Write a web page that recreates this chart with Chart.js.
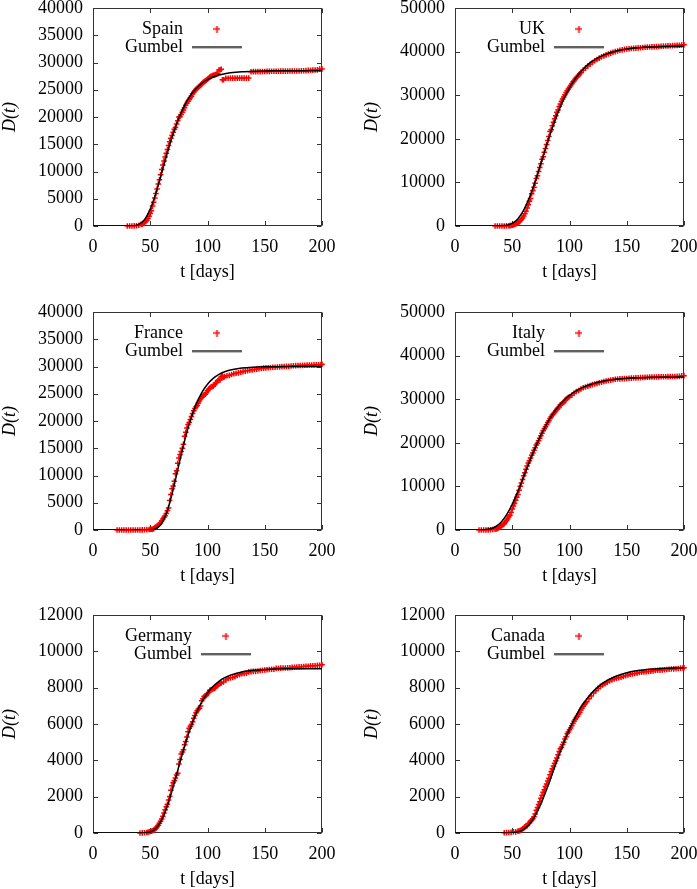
<!DOCTYPE html>
<html><head><meta charset="utf-8">
<script src="https://cdn.jsdelivr.net/npm/chart.js@4.4.1/dist/chart.umd.min.js"></script>
<style>
html,body{margin:0;padding:0;background:#fff;overflow:hidden;width:697px;height:889px;position:relative}
canvas{position:absolute}
</style></head><body>
<canvas id="c0" width="346" height="300" style="left:0px;top:-14px"></canvas>
<canvas id="c1" width="346" height="300" style="left:362px;top:-14px"></canvas>
<canvas id="c2" width="346" height="300" style="left:0px;top:290px"></canvas>
<canvas id="c3" width="346" height="300" style="left:362px;top:290px"></canvas>
<canvas id="c4" width="346" height="300" style="left:0px;top:593px"></canvas>
<canvas id="c5" width="346" height="300" style="left:362px;top:593px"></canvas>
<script>
// ---------------- data ----------------
const panelNames = ['Spain','UK','France','Italy','Germany','Canada'];
const panelYMax  = [40000, 50000, 40000, 50000, 12000, 12000];
const panelYStep = [5000, 10000, 5000, 10000, 2000, 2000];
const xAxisMax = 200;
const xAxisStep = 50;

const spainDays = [30,32,34,36,38,40,42,43,44,45,46,47,48,49,50,51,52,53,54,55,56,57,58,59,60,61,62,63,64,65,66,67,68,69,70,71,72,73,74,75,76,77,78,79,80,81,82,83,84,85,86,87,88,89,90,91,92,93,94,95,96,97,98,99,100,101,102,103,104,105,106,107,108,109,110,111,112,113,114,116,118,120,122,124,126,128,130,132,134,136,138,140,142,144,146,148,150,152,154,156,158,160,162,164,166,168,170,172,174,176,178,180,182,184,186,188,190,192,194,196,198,200];
const spainDeaths = [1,3,10,28,54,133,289,342,533,623,830,1043,1375,1772,2311,2808,3647,4365,5138,5982,6803,7716,8464,9387,10348,11198,11947,12641,13341,14045,14792,15447,16081,16606,17209,17756,18056,18708,19315,20002,20043,20453,20852,21282,21717,22157,22524,22902,23190,23521,23822,24275,24543,24824,25100,25264,25428,25613,25857,26070,26299,26478,26621,26744,26920,27104,27321,27459,27563,27650,27709,27778,27888,27940,28628,28678,28752,26834,26834,27117,27121,27127,27127,27127,27134,27136,27136,27136,27136,27136,28315,28322,28324,28327,28330,28341,28355,28364,28368,28385,28388,28396,28403,28409,28416,28422,28426,28429,28432,28436,28441,28445,28472,28498,28503,28549,28576,28605,28617,28646,28797,28813];
const spainFitDays = [0,20,25,30,35,40,45,50,55,60,65,70,75,80,85,90,95,100,105,110,115,120,130,140,150,160,170,180,190,200];
const spainFitDeaths = [0,0,0,2,40,292,1176,3098,6079,9727,13489,16929,19830,22142,23909,25220,26174,26858,27346,27693,27936,28107,28308,28407,28455,28478,28490,28495,28498,28499];

const ukDays = [35,37,39,41,43,45,47,48,49,50,51,52,53,54,55,56,57,58,59,60,61,62,63,64,65,66,67,68,69,70,71,72,73,74,75,76,77,78,79,80,81,82,83,84,85,86,87,88,89,90,91,92,93,94,95,96,97,98,99,100,101,102,103,104,105,106,107,108,109,110,112,114,116,118,120,122,124,126,128,130,132,134,136,138,140,142,144,146,148,150,152,154,156,158,160,162,164,166,168,170,172,174,176,178,180,182,184,186,188,190,192,194,196,198,200];
const ukDeaths = [2,3,5,8,15,30,50,80,120,180,250,340,450,580,750,950,1200,1500,1850,2300,2800,3400,4100,4900,5700,6300,7400,8100,8900,9800,10900,11500,12500,13400,14300,15300,15900,16900,17800,18700,19600,20500,21700,22100,23000,23800,24600,25300,26100,26600,27400,28000,28600,29100,29600,30100,30600,31000,31400,31800,32200,32600,33000,33300,33700,34000,34300,34600,34900,35200,35700,36200,36700,37100,37500,37900,38200,38500,38800,39000,39250,39450,39650,39850,40000,40150,40300,40400,40500,40600,40650,40700,40750,40800,40850,40900,40950,40990,41020,41050,41080,41110,41150,41180,41210,41250,41280,41320,41350,41380,41400,41430,41460,41500,41550];
const ukFitDays = [0,30,35,40,45,50,55,60,65,70,75,80,85,90,95,100,105,110,115,120,130,140,150,160,170,180,190,200];
const ukFitDeaths = [0,0,2,25,153,595,1663,3626,6538,10213,14335,18521,22490,26058,29127,31692,33784,35458,36783,37822,39245,40088,40579,40864,41028,41122,41177,41208];

const franceDays = [21,23,25,27,29,31,33,35,37,39,41,43,45,47,49,50,51,52,53,54,55,56,57,58,59,60,61,62,63,64,65,66,67,68,69,70,71,72,73,74,75,76,77,78,79,80,81,82,83,84,85,86,87,88,89,90,91,92,93,94,95,96,97,98,99,100,101,102,103,104,105,106,107,108,109,110,111,112,113,114,115,117,119,121,123,125,127,129,131,133,135,137,139,141,143,145,147,149,151,153,155,157,159,161,163,165,167,169,171,173,175,177,179,181,183,185,187,189,191,193,195,197,199,200];
const franceDeaths = [1,1,1,1,1,2,2,2,3,4,10,25,48,61,91,148,149,149,244,451,563,676,862,1102,1333,1698,1997,2317,2611,3030,3532,4043,5398,6520,7574,8093,8926,10343,10887,12228,13215,13851,14412,14986,15748,17188,17941,18703,19345,19744,20292,20829,21373,21889,22279,22619,22859,23296,23663,24090,24379,24597,24763,24899,25204,25537,25812,25990,26233,26313,26383,26646,26994,27077,27428,27532,27529,28111,28239,28025,28135,28289,28370,28530,28662,28771,28833,28943,29068,29155,29230,29322,29380,29436,29520,29590,29644,29700,29752,29780,29820,29864,29875,29896,29933,29982,30004,30020,30032,30100,30130,30155,30175,30195,30212,30238,30260,30268,30285,30297,30310,30325,30340,30400];
const franceFitDays = [0,40,45,50,55,60,65,70,75,80,85,90,95,100,105,110,115,120,130,140,150,160,180,200];
const franceFitDeaths = [0,0,0,19,230,1209,3612,7428,11955,16356,20115,23049,25215,26751,27819,28542,29031,29358,29719,29878,29947,29977,29996,30000];

const italyDays = [21,23,25,27,29,31,33,35,36,37,38,39,40,41,42,43,44,45,46,47,48,49,50,51,52,53,54,55,56,57,58,59,60,61,62,63,64,65,66,67,68,69,70,71,72,73,74,75,76,77,78,79,80,81,82,83,84,85,86,87,88,89,90,91,92,93,94,95,96,97,98,99,100,102,104,106,108,110,112,114,116,118,120,122,124,126,128,130,132,134,136,138,140,142,144,146,148,150,152,154,156,158,160,162,164,166,168,170,172,174,176,178,180,182,184,186,188,190,192,194,196,198,200];
const italyDeaths = [1,3,10,17,29,52,107,197,233,366,463,631,827,1016,1266,1441,1809,2158,2503,2978,3405,4032,4825,5476,6077,6820,7503,8165,9134,10023,10779,11591,12428,13155,13915,14681,15362,15887,16523,17127,17669,18279,18849,19468,19899,20465,21067,21645,22170,22745,23227,23660,24114,24648,25085,25549,25969,26384,26644,26977,27359,27682,27967,28236,28710,28884,29079,29315,29684,29958,30201,30395,30560,30911,31368,31763,32007,32330,32616,32785,32955,33142,33340,33475,33601,33774,33899,34043,34167,34301,34371,34448,34561,34634,34657,34675,34716,34744,34788,34833,34861,34899,34926,34945,34967,34997,35042,35058,35082,35102,35107,35123,35132,35141,35166,35181,35190,35205,35215,35231,35234,35392,35400];
const italyFitDays = [0,15,20,25,30,35,40,45,50,55,60,65,70,75,80,85,90,95,100,105,110,120,130,140,150,160,170,180,190,200];
const italyFitDeaths = [0,0,6,45,211,689,1713,3447,5896,8908,12232,15612,18831,21751,24296,26455,28245,29702,30870,31801,32538,33563,34183,34555,34777,34909,34987,35033,35060,35076];

const germanyDays = [41,43,45,47,48,49,50,51,52,53,54,55,56,57,58,59,60,61,62,63,64,65,66,67,68,69,70,71,72,73,74,75,76,77,78,79,80,81,82,83,84,85,86,87,88,89,90,91,92,93,94,95,96,97,98,99,100,101,102,103,104,105,106,107,108,109,110,111,112,114,116,118,120,122,124,126,128,130,132,134,136,138,140,142,144,146,148,150,152,154,156,158,160,162,164,166,168,170,172,174,176,178,180,182,184,186,188,190,192,194,196,198,200];
const germanyDeaths = [3,9,17,28,44,67,84,94,123,157,206,267,342,433,533,645,775,920,1107,1275,1444,1584,1810,2016,2349,2607,2767,2871,3022,3194,3294,3804,4052,4352,4459,4586,4862,5033,5279,5575,5760,5877,5976,6126,6314,6467,6623,6736,6812,6866,6993,7275,7392,7510,7549,7569,7661,7738,7861,7884,7897,7938,7962,8003,8081,8144,8203,8228,8261,8309,8428,8504,8540,8563,8602,8673,8711,8763,8783,8800,8869,8885,8895,8899,8914,8947,8961,8976,8990,9003,9010,9016,9063,9067,9078,9083,9086,9090,9099,9118,9124,9135,9144,9154,9164,9175,9183,9197,9201,9207,9225,9236,9260];
const germanyFitDays = [0,40,45,50,55,60,65,70,75,80,85,90,95,100,105,110,115,120,130,140,150,160,170,180,200];
const germanyFitDeaths = [0,0,7,58,252,716,1500,2534,3673,4778,5757,6568,7212,7706,8075,8349,8548,8691,8868,8958,9004,9027,9038,9044,9048];

const canadaDays = [43,45,47,49,51,53,55,56,57,58,59,60,61,62,63,64,65,66,67,68,69,70,71,72,73,74,75,76,77,78,79,80,81,82,83,84,85,86,87,88,89,90,91,92,93,94,95,96,97,98,99,100,101,102,103,104,105,106,107,108,109,110,111,112,113,114,115,117,119,121,123,125,127,129,131,133,135,137,139,141,143,145,147,149,151,153,155,157,159,161,163,165,167,169,171,173,175,177,179,181,183,185,187,189,191,193,195,197,199,200];
const canadaDeaths = [12,20,24,35,60,64,101,109,139,179,218,259,339,375,407,503,557,654,714,781,899,1048,1250,1399,1563,1725,1908,2075,2239,2386,2560,2700,2859,3010,3206,3391,3541,3693,3836,3977,4123,4305,4480,4631,4725,4871,4996,5169,5304,5472,5559,5679,5782,5903,6028,6150,6250,6355,6424,6545,6639,6765,6877,6979,7073,7159,7231,7395,7543,7703,7835,7960,8071,8146,8213,8300,8367,8430,8478,8520,8550,8574,8615,8660,8700,8737,8760,8783,8800,8834,8849,8870,8883,8895,8910,8925,8941,8956,8966,8975,8987,9003,9015,9024,9032,9041,9054,9073,9083,9100];
const canadaFitDays = [0,45,50,55,60,65,70,75,80,85,90,95,100,105,110,115,120,125,130,135,140,150,160,170,180,190,200];
const canadaFitDeaths = [0,2,14,63,199,481,951,1603,2399,3267,4142,4972,5722,6373,6924,7380,7750,8047,8285,8470,8617,8819,8941,9014,9057,9083,9098];

const panelDays = [spainDays, ukDays, franceDays, italyDays, germanyDays, canadaDays];
const panelDeaths = [spainDeaths, ukDeaths, franceDeaths, italyDeaths, germanyDeaths, canadaDeaths];
const panelFitDays = [spainFitDays, ukFitDays, franceFitDays, italyFitDays, germanyFitDays, canadaFitDays];
const panelFitDeaths = [spainFitDeaths, ukFitDeaths, franceFitDeaths, italyFitDeaths, germanyFitDeaths, canadaFitDeaths];

// ---------------- styling / drawing ----------------
const FONT = "'Liberation Serif', 'Times New Roman', serif";
Chart.defaults.font.family = FONT;
Chart.defaults.font.size = 18;
Chart.defaults.color = '#000';

function makeImg(w, h, draw) {
  const c = document.createElement('canvas'); c.width = w; c.height = h;
  draw(c.getContext('2d')); return c;
}
const plusImg = makeImg(7, 7, g => { g.fillStyle = '#ff0000'; g.fillRect(0, 2.75, 7, 1.5); g.fillRect(2.75, 0, 1.5, 7); });
const lineImg = makeImg(50, 3, g => { g.fillStyle = '#000'; g.fillRect(0, 0.75, 50, 1.5); });

const KEY_DX = 22, KEY_DY = 12, TICK_LEN = 4.5;

const framePlugin = {
  id: 'gpFrame',
  beforeDatasetsDraw(chart) {
    const { ctx, chartArea: a, scales: { x, y } } = chart;
    const L = Math.round(a.left) + 0.5, R = Math.round(a.right) - 0.5;
    const T = Math.round(a.top) + 0.5, B = Math.round(a.bottom) - 0.5;
    ctx.save();
    ctx.strokeStyle = '#333'; ctx.lineWidth = 1;
    ctx.beginPath();
    x.ticks.forEach(t => {
      const px = Math.round(x.getPixelForValue(t.value)) + 0.5;
      ctx.moveTo(px, B); ctx.lineTo(px, B - TICK_LEN);
      ctx.moveTo(px, T); ctx.lineTo(px, T + TICK_LEN);
    });
    y.ticks.forEach(t => {
      const py = Math.round(y.getPixelForValue(t.value)) + 0.5;
      ctx.moveTo(L, py); ctx.lineTo(L + TICK_LEN, py);
      ctx.moveTo(R, py); ctx.lineTo(R - TICK_LEN, py);
    });
    ctx.stroke();
    ctx.strokeRect(L, T, R - L, B - T);
    ctx.restore();
  }
};
const keyPlugin = {
  id: 'gpKey',
  afterLayout(chart) {
    const lg = chart.legend; if (!lg) return;
    const a = chart.chartArea;
    lg.left = a.left + KEY_DX; lg.top = a.top + KEY_DY;
    lg.right = lg.left + lg.width; lg.bottom = lg.top + lg.height;
  }
};

function makePanel(i) {
  const pts = panelDays[i].map((d, k) => ({ x: d, y: panelDeaths[i][k] }));
  const fit = panelFitDays[i].map((d, k) => ({ x: d, y: panelFitDeaths[i][k] }));
  return new Chart(document.getElementById('c' + i), {
    type: 'scatter',
    data: {
      datasets: [
        { label: panelNames[i], data: pts, showLine: false, pointStyle: 'cross', pointRadius: 2.8,
          pointBorderWidth: 1.5, pointBorderColor: '#ff0000', pointBackgroundColor: '#ff0000',
          borderColor: '#ff0000', backgroundColor: '#ff0000', order: 1, clip: false },
        { label: 'Gumbel', data: fit, type: 'line', showLine: true, borderColor: '#000', backgroundColor: '#000',
          borderWidth: 1.5, pointRadius: 0, cubicInterpolationMode: 'monotone', fill: false, order: 0 }
      ]
    },
    options: {
      responsive: false, animation: false, events: [],
      layout: { padding: { left: 0, top: 22, right: 24, bottom: 0 } },
      scales: {
        x: {
          type: 'linear', min: 0, max: xAxisMax,
          ticks: { stepSize: xAxisStep, padding: 10, autoSkip: false, maxRotation: 0, color: '#000',
                   callback: v => String(v) },
          grid: { display: false, drawTicks: false }, border: { display: false },
          title: { display: true, text: 't [days]', color: '#000', font: { size: 18 }, padding: { top: 0, bottom: 2.5 } },
          afterFit(s) { s.height = 60; }
        },
        y: {
          type: 'linear', min: 0, max: panelYMax[i],
          ticks: { stepSize: panelYStep[i], padding: 10, autoSkip: false, color: '#000',
                   callback: v => String(v) },
          grid: { display: false, drawTicks: false }, border: { display: false },
          title: { display: true, text: 'D(t)', color: '#000', font: { size: 18, style: 'italic', lineHeight: 1.1 }, padding: { top: 0, bottom: 0 } },
          afterFit(s) { s.width = 93; }
        }
      },
      plugins: {
        tooltip: { enabled: false },
        legend: {
          position: 'chartArea', align: 'start', rtl: true, textDirection: 'ltr',
          labels: {
            usePointStyle: true, pointStyleWidth: 50, padding: 0, color: '#000', font: { size: 18 },
            sort: (a, b) => a.datasetIndex - b.datasetIndex,
            generateLabels(chart) {
              const items = Chart.defaults.plugins.legend.labels.generateLabels(chart);
              items.forEach(it => { it.pointStyle = it.datasetIndex === 0 ? plusImg : lineImg; it.fontColor = '#000'; });
              return items;
            }
          }
        }
      }
    },
    plugins: [framePlugin, keyPlugin]
  });
}
for (let i = 0; i < 6; i++) makePanel(i);
</script>
</body></html>
